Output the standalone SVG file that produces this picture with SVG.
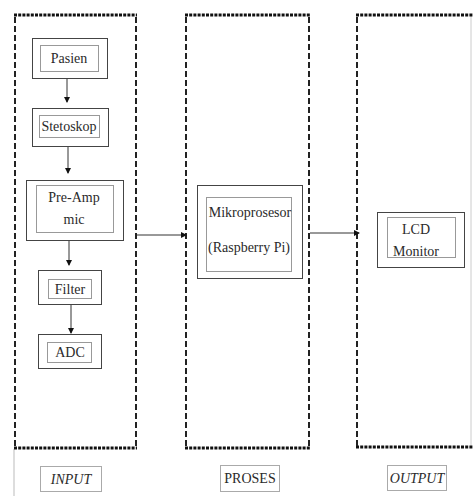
<svg xmlns="http://www.w3.org/2000/svg" width="473" height="496" viewBox="0 0 473 496">
<style>
.hd{stroke:#111;stroke-width:3;stroke-dasharray:3 1.2;fill:none}
.vd{stroke:#222;stroke-width:2;stroke-dasharray:6 3;fill:none}
.o{fill:#fff;stroke:#444;stroke-width:1}
.i{fill:none;stroke:#999;stroke-width:1}
.t{font-family:"Liberation Serif","Times New Roman",serif;font-size:14px;fill:#2a2a2a;text-anchor:middle}
.c{stroke:#333;stroke-width:1;fill:none;marker-end:url(#ah)}
.lb{fill:#fff;stroke:#aaa;stroke-width:1}
</style>
<defs>
<marker id="ah" markerWidth="6" markerHeight="6" refX="5" refY="3" orient="auto" markerUnits="userSpaceOnUse">
<path d="M0,0 L6,3 L0,6 Z" fill="#111"/>
</marker>
</defs>
<rect width="473" height="496" fill="#fff"/>
<g id="frames">
<line x1="14" y1="449" x2="14" y2="496" stroke="#bbb" stroke-width="1"/>
<line x1="471" y1="15" x2="471" y2="447" stroke="#ccc" stroke-width="1"/>
<line class="hd" x1="14" y1="15" x2="137" y2="15"/>
<line class="hd" x1="14" y1="448" x2="137" y2="448"/>
<line class="vd" x1="15" y1="17" x2="15" y2="447"/>
<line class="vd" x1="136" y1="17" x2="136" y2="447"/>
<line class="hd" x1="185" y1="15" x2="310" y2="15"/>
<line class="hd" x1="185" y1="448" x2="310" y2="448"/>
<line class="vd" x1="186" y1="17" x2="186" y2="447"/>
<line class="vd" x1="309" y1="17" x2="309" y2="447"/>
<line class="hd" x1="356" y1="15" x2="473" y2="15"/>
<line class="hd" x1="356" y1="447" x2="473" y2="447"/>
<line class="vd" x1="357" y1="17" x2="357" y2="446"/>
</g>
<g id="connectors">
<line class="c" x1="67" y1="78" x2="67" y2="102"/>
<line class="c" x1="68" y1="147" x2="68" y2="173"/>
<line class="c" x1="69" y1="240" x2="69" y2="265"/>
<line class="c" x1="71" y1="304" x2="71" y2="333"/>
<line class="c" x1="137" y1="235" x2="186" y2="235"/>
<line class="c" x1="310" y1="233" x2="359" y2="233"/>
</g>
<g id="pasien">
<rect class="o" x="32.5" y="38.5" width="75" height="40"/>
<rect class="i" x="40.5" y="45.5" width="58" height="26"/>
<text class="t" x="69" y="63">Pasien</text>
</g>
<g id="stetoskop">
<rect class="o" x="32.5" y="108.5" width="76" height="38"/>
<rect class="i" x="39.5" y="115.5" width="60" height="22"/>
<text class="t" x="69" y="131">Stetoskop</text>
</g>
<g id="preamp">
<rect class="o" x="26.5" y="180.5" width="97" height="60"/>
<rect class="i" x="36.5" y="185.5" width="77" height="47"/>
<text class="t" x="74" y="202">Pre-Amp</text>
<text class="t" x="74" y="224">mic</text>
</g>
<g id="filter">
<rect class="o" x="38.5" y="270.5" width="63" height="34"/>
<rect class="i" x="48.5" y="279.5" width="43" height="19"/>
<text class="t" x="70" y="294">Filter</text>
</g>
<g id="adc">
<rect class="o" x="38.5" y="334.5" width="63" height="34"/>
<rect class="i" x="47.5" y="342.5" width="44" height="20"/>
<text class="t" x="70" y="357">ADC</text>
</g>
<g id="mikro">
<rect class="o" x="197.5" y="185.5" width="105" height="93"/>
<rect class="i" x="206.5" y="197.5" width="85" height="74"/>
<text class="t" x="250" y="217">Mikroprosesor</text>
<text class="t" x="249" y="252">(Raspberry Pi)</text>
</g>
<g id="lcd">
<rect class="o" x="377.5" y="212.5" width="87" height="55"/>
<rect class="i" x="387.5" y="217.5" width="68" height="40"/>
<text class="t" x="416" y="234">LCD</text>
<text class="t" x="416" y="256">Monitor</text>
</g>
<g id="label-input">
<rect class="lb" x="40.5" y="466.5" width="61" height="25"/>
<text class="t" x="71" y="484" font-style="italic">INPUT</text>
</g>
<g id="label-proses">
<rect class="lb" x="220.5" y="465.5" width="59" height="26"/>
<text class="t" x="250" y="483">PROSES</text>
</g>
<g id="label-output">
<rect class="lb" x="387.5" y="465.5" width="59" height="25"/>
<text class="t" x="417" y="483" font-style="italic">OUTPUT</text>
</g>
</svg>
